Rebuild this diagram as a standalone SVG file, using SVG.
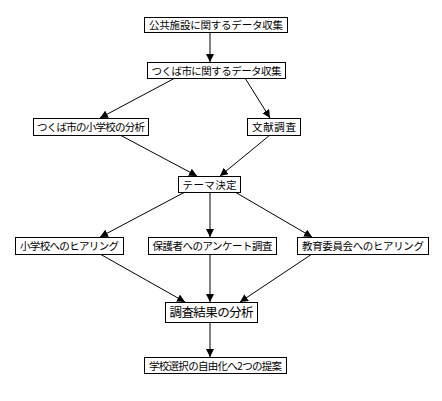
<svg xmlns="http://www.w3.org/2000/svg" width="442" height="401" viewBox="0 0 442 401">
<style>
.box rect{fill:#fff;stroke:#000;stroke-width:1}
.box text{font-family:"Noto Sans CJK JP","Noto Sans",sans-serif;font-size:10.5px;fill:#000;text-anchor:middle}
.big text{font-size:12.5px}
.conn line{stroke:#000;stroke-width:1;marker-end:url(#ah)}
</style>
<defs>
<marker id="ah" viewBox="0 0 8 8" refX="8" refY="4" markerWidth="8" markerHeight="8" markerUnits="userSpaceOnUse" orient="auto">
<path d="M0,0 L8,4 L0,8 z" fill="#000"/>
</marker>
</defs>
<rect width="442" height="401" fill="#fff"/>
<g class="conn">
<line x1="210" y1="32" x2="210" y2="62"/>
<line x1="175" y1="78" x2="100" y2="118"/>
<line x1="245" y1="78" x2="270" y2="118"/>
<line x1="120" y1="135" x2="197" y2="176"/>
<line x1="270" y1="135" x2="220" y2="176"/>
<line x1="185" y1="192" x2="100" y2="237"/>
<line x1="210" y1="192" x2="210" y2="237"/>
<line x1="235" y1="192" x2="312" y2="237"/>
<line x1="100" y1="254" x2="185" y2="302"/>
<line x1="210" y1="254" x2="210" y2="302"/>
<line x1="312" y1="254" x2="240" y2="302"/>
<line x1="210" y1="322" x2="210" y2="357"/>
</g>
<g id="n1" class="box"><rect x="144.5" y="17.5" width="143" height="15"/><text x="216" y="29" textLength="134">公共施設に関するデータ収集</text></g>
<g id="n2" class="box"><rect x="147.5" y="62.5" width="138" height="16"/><text x="216.5" y="74.5" textLength="130">つくば市に関するデータ収集</text></g>
<g id="n3" class="box"><rect x="33.5" y="118.5" width="115" height="17"/><text x="91" y="131" textLength="108">つくば市の小学校の分析</text></g>
<g id="n4" class="box"><rect x="247.5" y="118.5" width="53" height="17"/><text x="274" y="131" textLength="44">文献調査</text></g>
<g id="n5" class="box"><rect x="178.5" y="176.5" width="62" height="16"/><text x="209.5" y="188.5" textLength="54">テーマ決定</text></g>
<g id="n6" class="box"><rect x="15.5" y="237.5" width="108" height="17"/><text x="69.5" y="250" textLength="99">小学校へのヒアリング</text></g>
<g id="n7" class="box"><rect x="148.5" y="237.5" width="128" height="17"/><text x="212.5" y="250" textLength="120">保護者へのアンケート調査</text></g>
<g id="n8" class="box"><rect x="297.5" y="237.5" width="131" height="17"/><text x="363" y="250" textLength="122">教育委員会へのヒアリング</text></g>
<g id="n9" class="box big"><rect x="165.5" y="302.5" width="92" height="20"/><text x="211.5" y="317" textLength="84">調査結果の分析</text></g>
<g id="n10" class="box"><rect x="144.5" y="357.5" width="142" height="16"/><text x="215.5" y="369.5" textLength="133">学校選択の自由化へ2つの提案</text></g>
</svg>
